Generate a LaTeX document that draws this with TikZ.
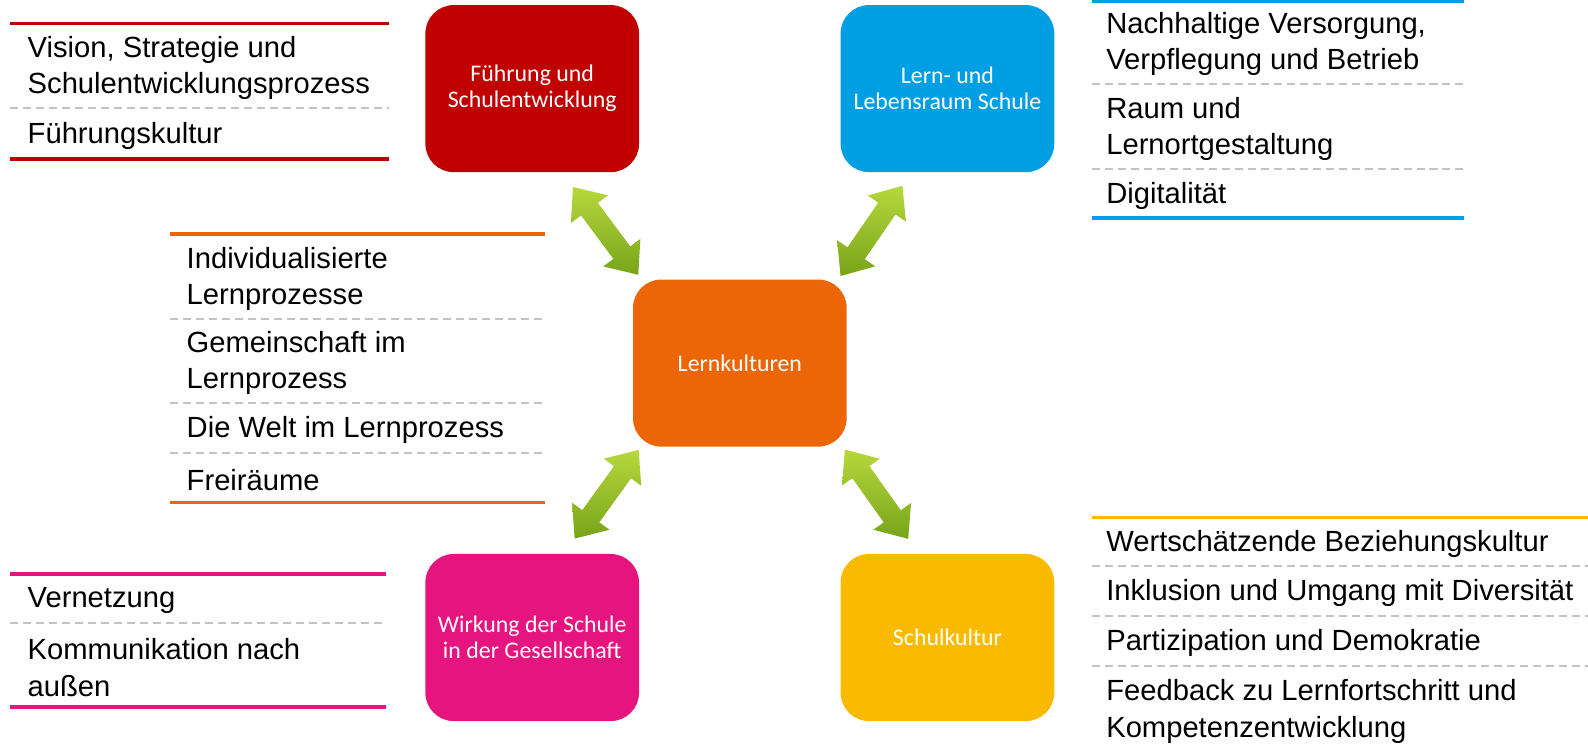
\documentclass[tikz,border=0pt]{standalone}
\usepackage{fontspec}
\setmainfont{Liberation Sans}
\newfontfamily\boxfont{Carlito}
\usetikzlibrary{shapes.arrows}

\definecolor{fsred}{HTML}{C00000}
\definecolor{llblue}{HTML}{009FE3}
\definecolor{lkorange}{HTML}{EC6608}
\definecolor{wgpink}{HTML}{E6147E}
\definecolor{skyellow}{HTML}{FABA00}
\definecolor{arrowlight}{HTML}{B6D83C}
\definecolor{arrowdark}{HTML}{78A31A}
\definecolor{dashgray}{HTML}{C3C3C3}

\tikzset{
  catbox/.style={rectangle, rounded corners=0.56cm, minimum width=4.22cm,
    minimum height=3.3cm, text=white, align=center,
    font=\boxfont\fontsize{13.4}{14.6}\selectfont},
  item/.style={anchor=west, align=left, inner sep=0pt, yshift=-1.2pt,
    font=\fontsize{16.4}{20.4}\selectfont},
  colrule/.style={line width=2pt},
  seprule/.style={line width=1.1pt, dashgray, dash pattern=on 4.5pt off 2.8pt},
  dblarrow/.style={double arrow, draw=none, minimum height=2.16cm,
    inner sep=0.2cm, double arrow head extend=0.25cm,
    double arrow tip angle=80, top color=arrowlight, bottom color=arrowdark}
}

\begin{document}
\begin{tikzpicture}[x=0.02cm,y=-0.02cm]
  \useasboundingbox (0,0) rectangle (1568,740);

  \node[catbox, fill=fsred] (fs) at (525.5,87.5) {Führung und\\Schulentwicklung};
  \node[catbox, fill=llblue] (ll) at (935.5,87.5) {Lern- und\\Lebensraum Schule};
  \node[catbox, fill=lkorange] (lk) at (730.5,358.5) {Lernkulturen};
  \node[catbox, fill=wgpink] (wg) at (525.5,629.5) {Wirkung der Schule\\in der Gesellschaft};
  \node[catbox, fill=skyellow] (sk) at (935.5,629.5) {Schulkultur};

  \coordinate (fsend) at (566,185);
  \coordinate (lkfs) at (630,271);
  \coordinate (llend) at (890,185);
  \coordinate (lkll) at (831,271);
  \coordinate (lkwg) at (630,445);
  \coordinate (wgend) at (568,531);
  \coordinate (lksk) at (835,445);
  \coordinate (skend) at (896,531);
  \path (fsend) -- node[dblarrow, sloped] {} (lkfs);
  \path (llend) -- node[dblarrow, sloped] {} (lkll);
  \path (lkwg) -- node[dblarrow, sloped] {} (wgend);
  \path (lksk) -- node[dblarrow, sloped] {} (skend);

  \node[item] (fs1) at (27,65) {Vision, Strategie und\\Schulentwicklungsprozess};
  \node[item] (fs2) at (27,132) {Führungskultur};
  \draw[colrule, fsred] (10,23) -- (384,23);
  \draw[seprule] (10,107) -- (384,107);
  \draw[colrule, fsred] (10,157) -- (384,157);

  \node[item] (ll1) at (1092,41) {Nachhaltige Versorgung,\\Verpflegung und Betrieb};
  \node[item] (ll2) at (1092,125) {Raum und\\Lernortgestaltung};
  \node[item] (ll3) at (1092,191) {Digitalität};
  \draw[colrule, llblue] (1078,1.5) -- (1446,1.5);
  \draw[seprule] (1078,83) -- (1446,83);
  \draw[seprule] (1078,167) -- (1446,167);
  \draw[colrule, llblue] (1078,215) -- (1446,215);

  \node[item] (lk1) at (184,273) {Individualisierte\\Lernprozesse};
  \node[item] (lk2) at (184,356.5) {Gemeinschaft im\\Lernprozess};
  \node[item] (lk3) at (184,422.5) {Die Welt im Lernprozess};
  \node[item] (lk4) at (184,471.5) {Freiräume};
  \draw[colrule, lkorange] (168,231) -- (538,231);
  \draw[seprule] (168,315) -- (538,315);
  \draw[seprule] (168,398) -- (538,398);
  \draw[seprule] (168,447) -- (538,447);
  \draw[colrule, lkorange] (168,496) -- (538,496);

  \node[item] (wg1) at (27,591) {Vernetzung};
  \node[item] (wg2) at (27,657) {Kommunikation nach\\außen};
  \draw[colrule, wgpink] (10,567) -- (381,567);
  \draw[seprule] (10,615) -- (381,615);
  \draw[colrule, wgpink] (10,698) -- (381,698);

  \node[item] (sk1) at (1092,535) {Wertschätzende Beziehungskultur};
  \node[item] (sk2) at (1092,583.5) {Inklusion und Umgang mit Diversität};
  \node[item] (sk3) at (1092,633) {Partizipation und Demokratie};
  \node[item] (sk4) at (1092,700.5) {Feedback zu Lernfortschritt und\\Kompetenzentwicklung};
  \draw[colrule, skyellow] (1078,511) -- (1568,511);
  \draw[seprule] (1078,559) -- (1568,559);
  \draw[seprule] (1078,608) -- (1568,608);
  \draw[seprule] (1078,658) -- (1568,658);
\end{tikzpicture}
\end{document}
